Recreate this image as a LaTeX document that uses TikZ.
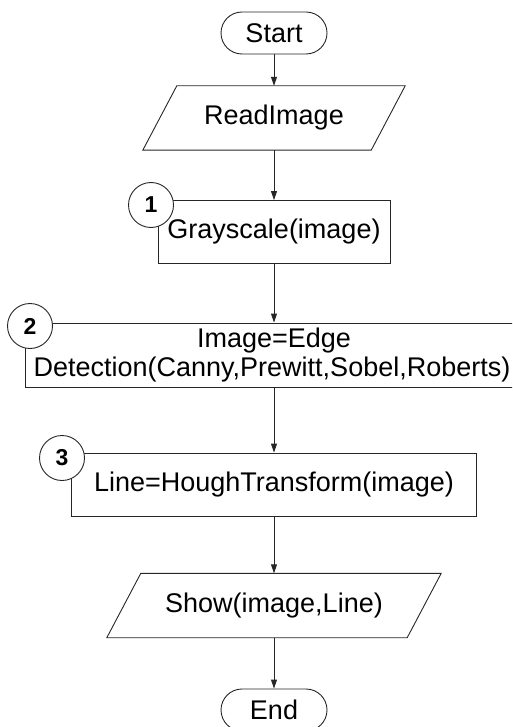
\documentclass[tikz,border=0pt]{standalone}
\usepackage{fontspec}
\setmainfont{Liberation Sans}
\usetikzlibrary{arrows.meta,calc}
\begin{document}
\begin{tikzpicture}[x=1pt,y=-1pt,
  every node/.style={font=\fontsize{27}{30}\selectfont, inner sep=0pt},
  line/.style={line width=0.9pt, draw=black!85},
  term/.style={line, draw, rounded corners=21pt, minimum width=106pt, minimum height=42pt},
  proc/.style={line, draw, fill=white, minimum height=63pt},
  io/.style={minimum height=64pt},
  badge/.style={line, draw, circle, fill=white, minimum size=45pt, font=\fontsize{23}{24}\selectfont\bfseries},
  flow/.style={line, -{Triangle[length=9pt,width=6pt]}}]
\useasboundingbox (0,0) rectangle (512,727);
\clip (0,0) rectangle (512,727);

\node[term] (start) at (274,33) {Start};

\node[io, minimum width=228pt] (read) at (274,118) {ReadImage};
\draw[line] ($(read.north west)+(17,0)$) -- ($(read.north east)+(17,0)$)
  -- ($(read.south east)+(-17,0)$) -- ($(read.south west)+(-17,0)$) -- cycle;

\node[proc, minimum width=232pt] (gray) at (274,232) {Grayscale(image)};

\node[proc, minimum width=498pt, minimum height=64pt, align=center] (edge) at (274,355)
  {Image=Edge\\[-1pt]\hspace*{-4pt}Detection(Canny,Prewitt,Sobel,Roberts)};

\node[proc, minimum width=405pt] (hough) at (274,484.5) {Line=HoughTransform(image)};

\node[io, minimum width=300pt] (show) at (274,605.5) {Show(image,Line)};
\draw[line] ($(show.north west)+(17,0)$) -- ($(show.north east)+(17,0)$)
  -- ($(show.south east)+(-17,0)$) -- ($(show.south west)+(-17,0)$) -- cycle;

\node[term] (end) at (274,710) {End};

\node[badge] (b1) at (151,205) {1};
\node[badge] (b2) at (30,326) {2};
\node[badge] (b3) at (62,458) {3};

\draw[flow] (start) -- (read);
\draw[flow] (read) -- (gray);
\draw[flow] (gray) -- (edge);
\draw[flow] (edge) -- (hough);
\draw[flow] (hough) -- (show);
\draw[flow] (show) -- (end);
\end{tikzpicture}
\end{document}
